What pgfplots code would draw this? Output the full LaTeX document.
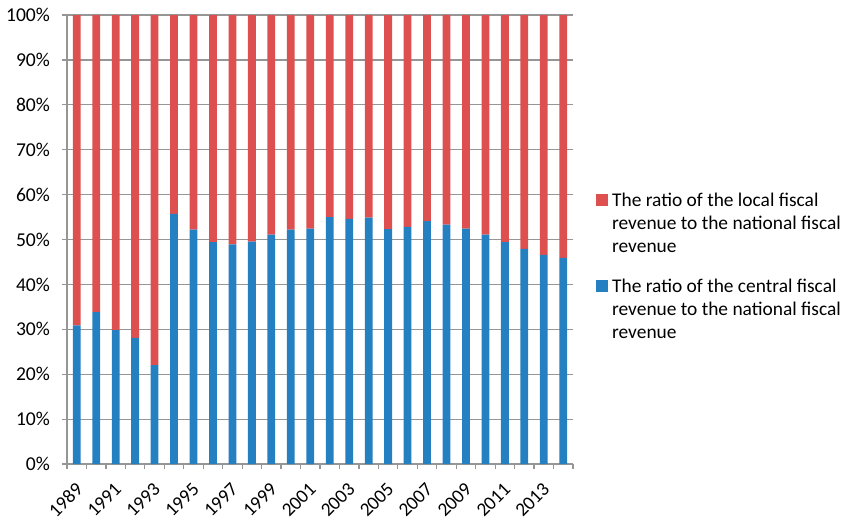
\documentclass[border=0pt]{standalone}
\usepackage{fontspec}
\setmainfont{Carlito}
\usepackage{pgfplots}
\pgfplotsset{compat=1.18}
\definecolor{central}{RGB}{37,128,194}
\definecolor{local}{RGB}{222,80,80}
\definecolor{gridc}{RGB}{150,150,150}

\begin{document}
\begin{tikzpicture}
\useasboundingbox (-33.5pt,-28.5pt) rectangle (388pt,232pt);
\begin{axis}[
  at={(0,0)}, anchor=south west,
  scale only axis, width=253pt, height=224.5pt,
  ybar stacked, bar width=3.9pt,
  xmin=-0.5, xmax=25.5, ymin=0, ymax=100,
  axis x line*=bottom, axis y line*=left,
  axis line style={gridc, line width=0.6pt},
  ymajorgrids, grid style={gridc, line width=0.6pt},
  ytick={0,10,...,100},
  yticklabel={\pgfmathprintnumber{\tick}\%},
  /pgf/number format/assume math mode=true,
  xtick={0,2,...,24},
  xticklabels={1989,1991,1993,1995,1997,1999,2001,2003,2005,2007,2009,2011,2013},
  minor xtick={-0.5,0.5,...,25.5},
  tick align=outside,
  major tick length=2.5pt, minor tick length=2.5pt,
  tick style={gridc, line width=0.6pt},
  major x tick style={draw=none},
  xticklabel style={rotate=45, anchor=north east, font=\fontsize{9.6}{10}\selectfont,
    inner sep=1pt, yshift=-2.5pt, xshift=-4pt},
  yticklabel style={font=\fontsize{9.8}{10}\selectfont, xshift=-2.5pt},
  legend image code/.code={\path[#1, draw=none] (0pt,0pt) rectangle (6pt,6pt);},
  reverse legend,
  legend style={draw=none, fill=none, at={(1.045,0.493)}, anchor=west,
    font=\fontsize{9.7}{11.5}\selectfont, cells={anchor=base west},
    row sep=29.5pt, inner sep=0pt},
]
% central share (bottom)
\addplot[fill=central, draw=none] coordinates {
(0,30.9) (1,33.8) (2,29.8) (3,28.1) (4,22.0) (5,55.7) (6,52.2) (7,49.4) (8,48.9)
(9,49.5) (10,51.1) (11,52.2) (12,52.4) (13,55.0) (14,54.6) (15,54.9) (16,52.3)
(17,52.8) (18,54.1) (19,53.3) (20,52.4) (21,51.1) (22,49.4) (23,47.9) (24,46.6) (25,45.9)};
\addlegendentry{\begin{tabular}[t]{@{}l@{}}The ratio of the central fiscal\\revenue to the national fiscal\\revenue\end{tabular}}
% local share (top)
\addplot[fill=local, draw=none] coordinates {
(0,69.1) (1,66.2) (2,70.2) (3,71.9) (4,78.0) (5,44.3) (6,47.8) (7,50.6) (8,51.1)
(9,50.5) (10,48.9) (11,47.8) (12,47.6) (13,45.0) (14,45.4) (15,45.1) (16,47.7)
(17,47.2) (18,45.9) (19,46.7) (20,47.6) (21,48.9) (22,50.6) (23,52.1) (24,53.4) (25,54.1)};
\addlegendentry{\begin{tabular}[t]{@{}l@{}}The ratio of the local fiscal\\revenue to the national fiscal\\revenue\end{tabular}}
\end{axis}
\end{tikzpicture}
\end{document}
